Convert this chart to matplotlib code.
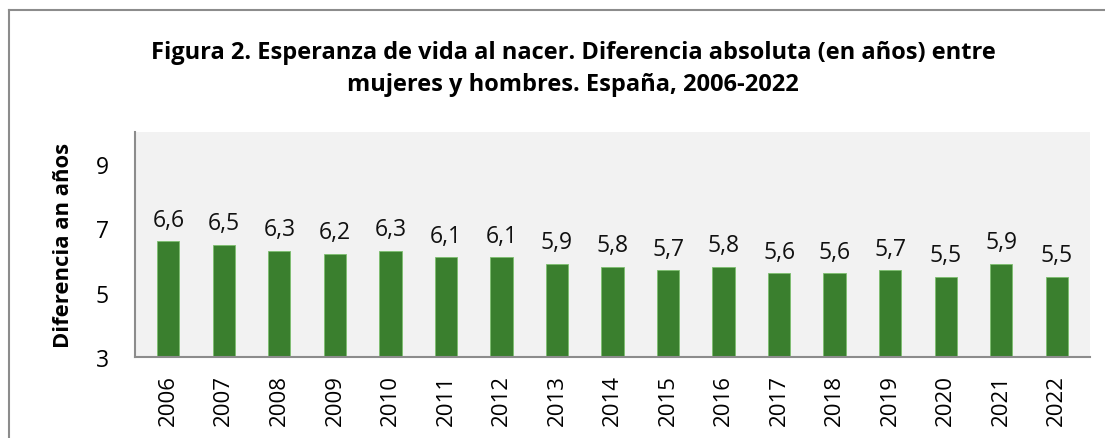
import matplotlib
matplotlib.use("Agg")
import matplotlib.pyplot as plt
from matplotlib.lines import Line2D

years = ["2006", "2007", "2008", "2009", "2010", "2011", "2012", "2013", "2014",
         "2015", "2016", "2017", "2018", "2019", "2020", "2021", "2022"]
values = [6.6, 6.5, 6.3, 6.2, 6.3, 6.1, 6.1, 5.9, 5.8, 5.7, 5.8, 5.6, 5.6, 5.7, 5.5, 5.9, 5.5]
yticks = [3, 5, 7, 9]
title = ("Figura 2. Esperanza de vida al nacer. Diferencia absoluta (en años) entre\n"
         "mujeres y hombres. España, 2006-2022")
ylabel = "Diferencia an años"

plt.rcParams['font.family'] = ['Open Sans', 'DejaVu Sans']

W, H = 1105, 439
fig = plt.figure(figsize=(W / 100, H / 100), dpi=100)
ax = fig.add_axes([135 / W, 1 - 358 / H, (1090 - 135) / W, (358 - 133) / H])
ax.set_facecolor('#F2F2F2')

x = list(range(len(years)))
bars = ax.bar(x, values, width=0.4, bottom=0, color='#3A7F2E', edgecolor='#7DBE6E', linewidth=0.6)
for xi, v in zip(x, values):
    ax.text(xi, v + 0.3, f"{v:.1f}".replace('.', ','), ha='center', va='bottom', fontsize=16.5, color='#111111')

ax.set_ylim(3, 10)
ax.set_xlim(-0.6, len(years) - 0.4)
ax.set_yticks(yticks)
ax.set_yticklabels([str(t) for t in yticks], fontsize=16.5)
ax.set_xticks(x)
ax.set_xticklabels(years, rotation=90, fontsize=16)
ax.tick_params(axis='both', length=0)
ax.tick_params(axis='y', pad=19)
ax.tick_params(axis='x', pad=12)
for s in ['top', 'right']:
    ax.spines[s].set_visible(False)
for s in ['left', 'bottom']:
    ax.spines[s].set_color('#8C8C8C')
    ax.spines[s].set_linewidth(1.5)

ax.set_ylabel(ylabel, fontsize=15.8, fontweight='bold')
ax.yaxis.set_label_coords(-0.064, 0.5)

fig.text(573 / W, 1 - 69 / H, title, ha='center', va='center', fontsize=17,
         fontweight='bold', linespacing=1.45)

# figure frame (left and top edges)
fig.add_artist(Line2D([8.5 / W, 8.5 / W], [0, 1 - 10.5 / H], transform=fig.transFigure,
                      color='#8C8C8C', linewidth=1.5))
fig.add_artist(Line2D([8.5 / W, 1], [1 - 10.5 / H, 1 - 10.5 / H], transform=fig.transFigure,
                      color='#8C8C8C', linewidth=1.5))

fig.savefig("out.png", dpi=100)
